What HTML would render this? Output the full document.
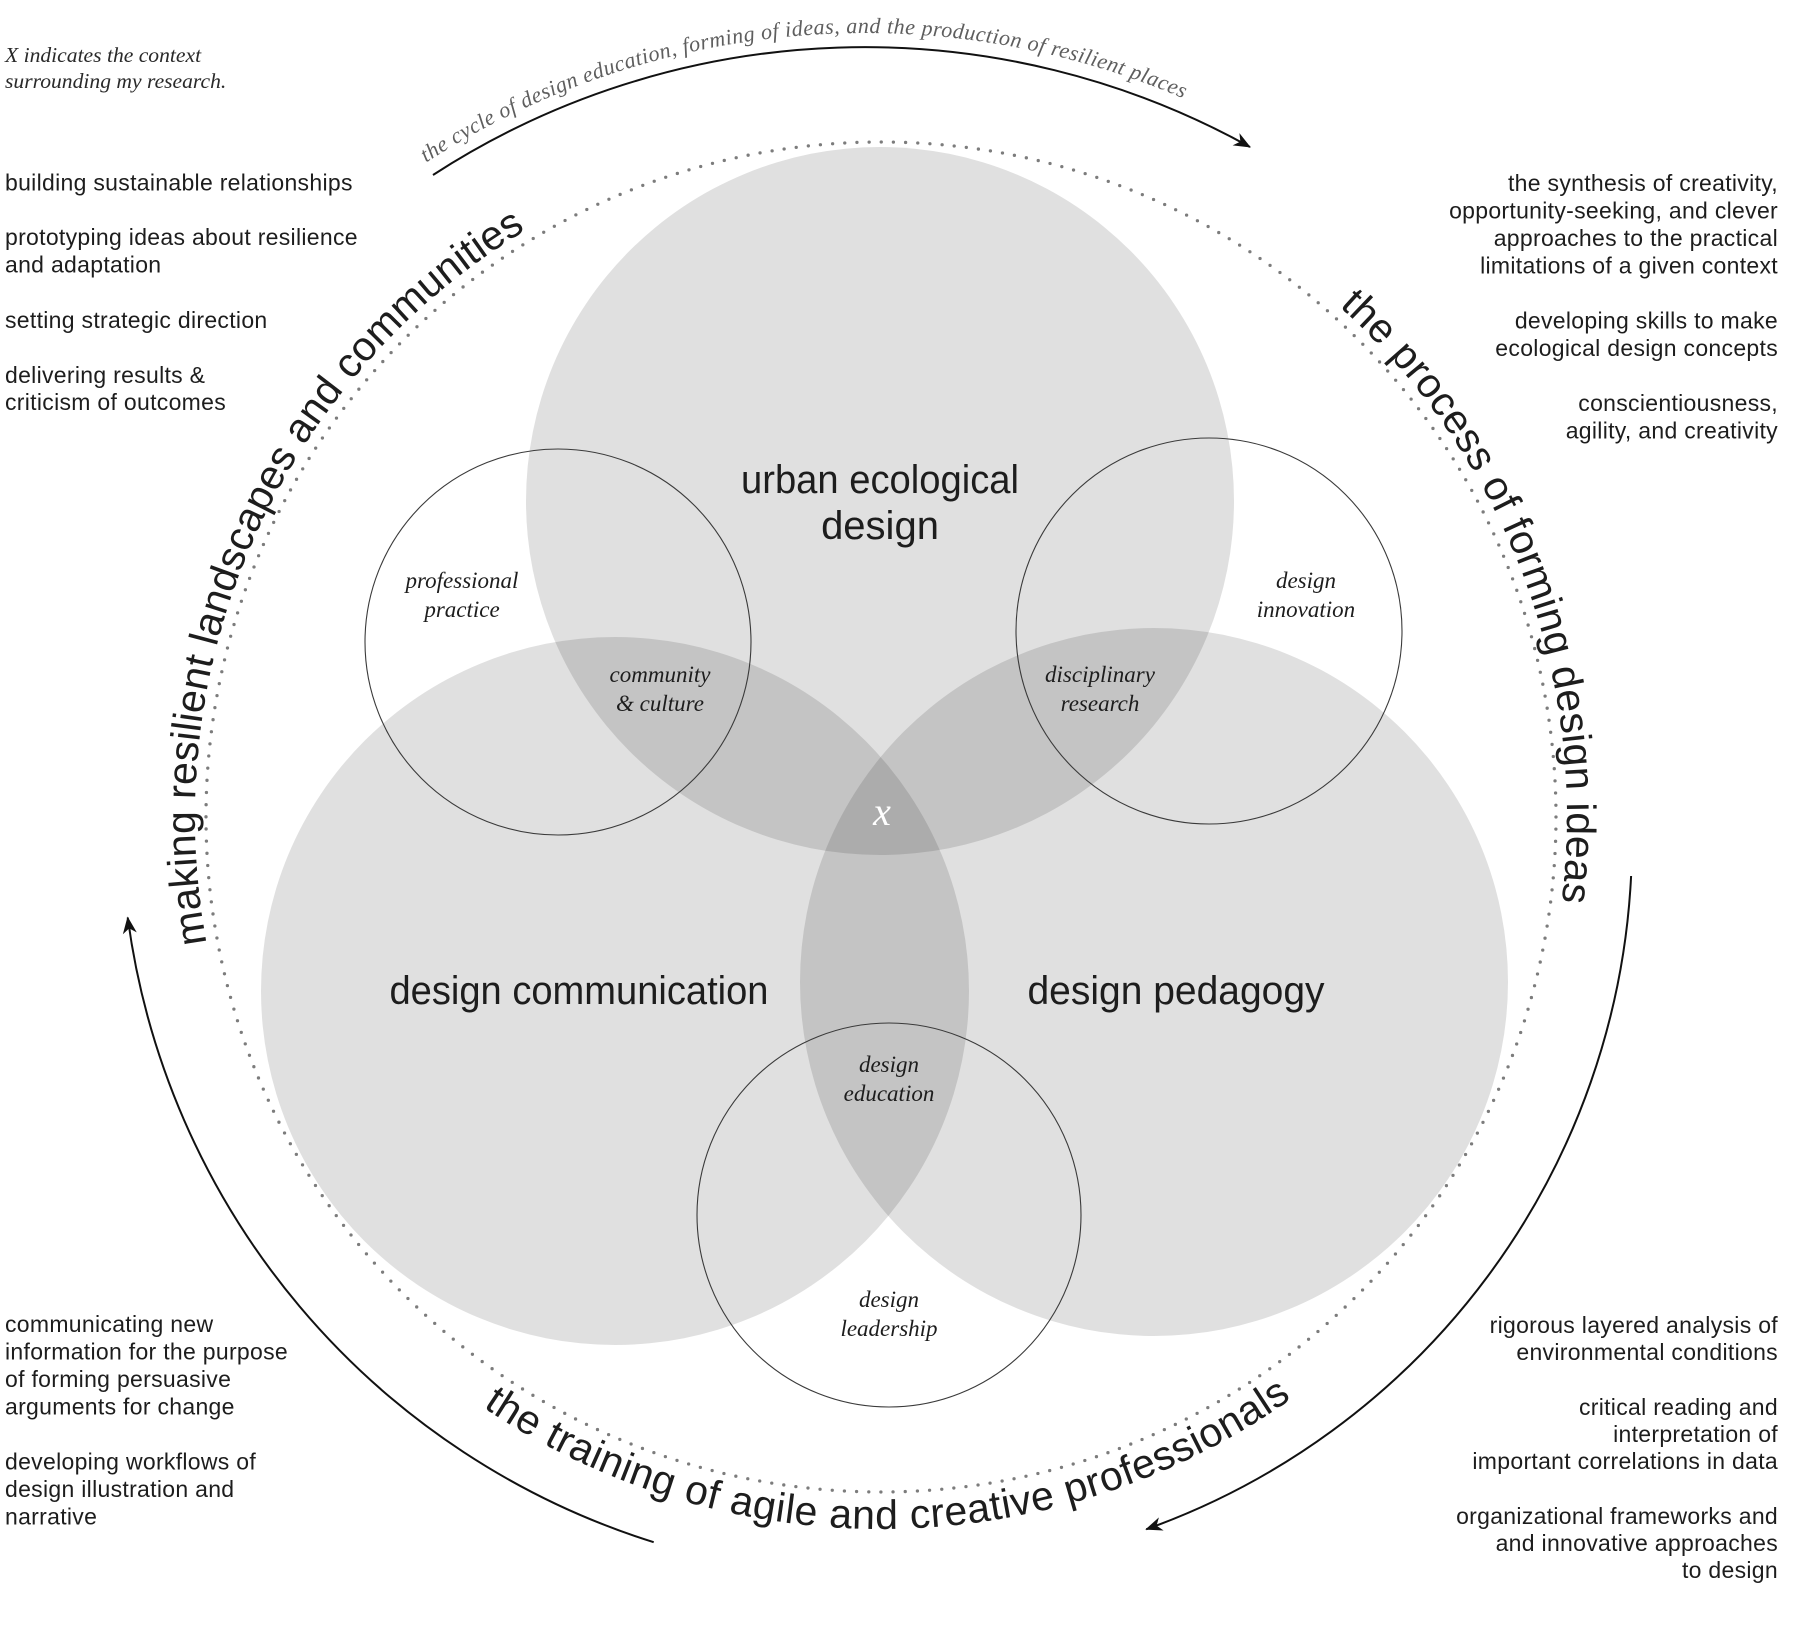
<!DOCTYPE html>
<html>
<head>
<meta charset="utf-8">
<style>
  html, body { margin:0; padding:0; background:#ffffff; }
  svg { display:block; }
  .sans { font-family: "Liberation Sans", "DejaVu Sans", sans-serif; fill:#1d1d1d; }
  .list { font-size:23px; letter-spacing:0.3px; }
  .ital { font-family: "Liberation Serif", "DejaVu Serif", serif; font-style:italic; fill:#1d1d1d; }
  .big { font-size:40px; }
  .arc { font-size:41px; }
</style>
</head>
<body>
<svg width="1812" height="1645" viewBox="0 0 1812 1645" xmlns="http://www.w3.org/2000/svg">
  <defs>
    <marker id="ah" markerUnits="userSpaceOnUse" viewBox="-17 -8 19 16" refX="0" refY="0" markerWidth="19" markerHeight="16" orient="auto">
      <path d="M1,0 L-16,-7 L-11,0 L-16,7 Z" fill="#111"/>
    </marker>
    <path id="pTop" d="M426.1,162.6 A808,808 0 0,1 1384.4,222.1"/>
    <path id="pLeft" d="M206.7,943.2 A686,686 0 0,1 591.1,195.3"/>
    <path id="pRight" d="M1339.1,306.4 A686,686 0 0,1 1543.6,994.5"/>
    <path id="pBottom" d="M482.9,1407.2 A712,712 0 0,0 1384.5,1320.5"/>
  </defs>

  <!-- big venn circles -->
  <g fill="#000" fill-opacity="0.123">
    <circle cx="880" cy="501" r="354"/>
    <circle cx="615" cy="991" r="354"/>
    <circle cx="1154" cy="982" r="354"/>
  </g>

  <!-- outline circles -->
  <g fill="none" stroke="#3a3a3a" stroke-width="1.1">
    <circle cx="558" cy="642" r="193"/>
    <circle cx="1209" cy="631" r="193"/>
    <circle cx="889" cy="1215" r="192"/>
  </g>

  <!-- dotted circle -->
  <circle cx="881" cy="817" r="675" fill="none" stroke="#7c7c7c" stroke-width="3.3" stroke-linecap="round" stroke-dasharray="0 12.187"/>

  <!-- arrow arcs -->
  <g fill="none" stroke="#111" stroke-width="2">
    <path d="M433,175 A793,793 0 0,1 1250,147" marker-end="url(#ah)"/>
    <path d="M653.7,1542.2 A760,760 0 0,1 127.7,917.5" marker-end="url(#ah)"/>
    <path d="M1631.1,876 A732,732 0 0,1 1146.2,1529.3" marker-end="url(#ah)"/>
  </g>

  <!-- curved texts -->
  <text class="ital" style="font-size:22px; fill:#5e5e5e;">
    <textPath href="#pTop" textLength="791" lengthAdjust="spacing">the cycle of design education, forming of ideas, and the production of resilient places</textPath>
  </text>
  <text class="sans arc">
    <textPath href="#pLeft" textLength="831" lengthAdjust="spacing">making resilient landscapes and communities</textPath>
  </text>
  <text class="sans arc">
    <textPath href="#pRight" textLength="661" lengthAdjust="spacing">the process of forming design ideas</textPath>
  </text>
  <text class="sans arc">
    <textPath href="#pBottom" textLength="860" lengthAdjust="spacing">the training of agile and creative professionals</textPath>
  </text>

  <!-- big labels -->
  <g class="sans big" text-anchor="middle">
    <text x="880" y="493" textLength="278" lengthAdjust="spacingAndGlyphs">urban ecological</text>
    <text x="880" y="539">design</text>
    <text x="579" y="1004" textLength="379" lengthAdjust="spacingAndGlyphs">design communication</text>
    <text x="1176" y="1004" textLength="297" lengthAdjust="spacingAndGlyphs">design pedagogy</text>
  </g>

  <!-- italic small labels -->
  <g class="ital" style="font-size:23px;" text-anchor="middle">
    <text x="462" y="588">professional</text>
    <text x="462" y="617">practice</text>
    <text x="660" y="682">community</text>
    <text x="660" y="711">&amp; culture</text>
    <text x="1306" y="588">design</text>
    <text x="1306" y="617">innovation</text>
    <text x="1100" y="682">disciplinary</text>
    <text x="1100" y="711">research</text>
    <text x="889" y="1072">design</text>
    <text x="889" y="1101">education</text>
    <text x="889" y="1307">design</text>
    <text x="889" y="1336">leadership</text>
  </g>
  <text class="ital" x="882" y="825" text-anchor="middle" style="font-size:40px; fill:#ffffff;">x</text>

  <!-- top-left note -->
  <g class="ital" style="font-size:21.6px; fill:#2a2a2a;">
    <text x="5" y="62">X indicates the context</text>
    <text x="5" y="88">surrounding my research.</text>
  </g>

  <!-- left list -->
  <g class="sans list">
    <text x="5" y="190.7">building sustainable relationships</text>
    <text x="5" y="245">prototyping ideas about resilience</text>
    <text x="5" y="272.7">and adaptation</text>
    <text x="5" y="328">setting strategic direction</text>
    <text x="5" y="383">delivering results &amp;</text>
    <text x="5" y="410">criticism of outcomes</text>
  </g>

  <!-- right list -->
  <g class="sans list" text-anchor="end">
    <text x="1778" y="191">the synthesis of creativity,</text>
    <text x="1778" y="218.5">opportunity-seeking, and clever</text>
    <text x="1778" y="246">approaches to the practical</text>
    <text x="1778" y="273.5">limitations of a given context</text>
    <text x="1778" y="328.5">developing skills to make</text>
    <text x="1778" y="356">ecological design concepts</text>
    <text x="1778" y="411">conscientiousness,</text>
    <text x="1778" y="438.5">agility, and creativity</text>
  </g>

  <!-- bottom-left list -->
  <g class="sans list">
    <text x="5" y="1332">communicating new</text>
    <text x="5" y="1359.5">information for the purpose</text>
    <text x="5" y="1387">of forming persuasive</text>
    <text x="5" y="1414.5">arguments for change</text>
    <text x="5" y="1469.5">developing workflows of</text>
    <text x="5" y="1497">design illustration and</text>
    <text x="5" y="1524.5">narrative</text>
  </g>

  <!-- bottom-right list -->
  <g class="sans list" text-anchor="end">
    <text x="1778" y="1333">rigorous layered analysis of</text>
    <text x="1778" y="1360">environmental conditions</text>
    <text x="1778" y="1415">critical reading and</text>
    <text x="1778" y="1442">interpretation of</text>
    <text x="1778" y="1469">important correlations in data</text>
    <text x="1778" y="1524">organizational frameworks and</text>
    <text x="1778" y="1551">and innovative approaches</text>
    <text x="1778" y="1578">to design</text>
  </g>
</svg>
</body>
</html>
